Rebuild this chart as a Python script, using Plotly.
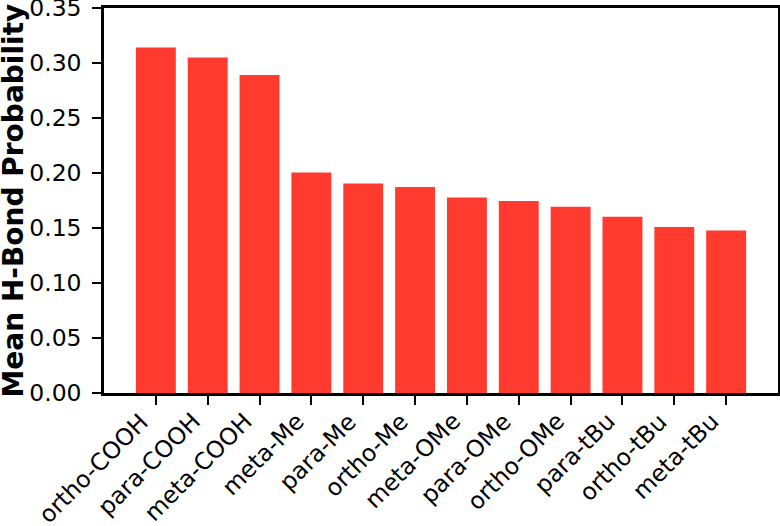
import plotly.graph_objects as go

categories = ["ortho-COOH", "para-COOH", "meta-COOH", "meta-Me", "para-Me", "ortho-Me",
              "meta-OMe", "para-OMe", "ortho-OMe", "para-tBu", "ortho-tBu", "meta-tBu"]
values = [0.314, 0.305, 0.289, 0.2005, 0.1905, 0.1873,
          0.1778, 0.1745, 0.1694, 0.1603, 0.1509, 0.1478]
y_ticks = [0.00, 0.05, 0.10, 0.15, 0.20, 0.25, 0.30, 0.35]
y_ticklabels = ["0.00", "0.05", "0.10", "0.15", "0.20", "0.25", "0.30", "0.35"]
y_title = "Mean H-Bond Probability"

x_pos = list(range(len(categories)))

fig = go.Figure(go.Bar(
    x=x_pos, y=values, width=0.77,
    marker=dict(color="#FF3B30", line=dict(width=0)),
))

fig.update_layout(
    width=780, height=526,
    margin=dict(l=104, r=2, t=8, b=133),
    paper_bgcolor="white", plot_bgcolor="white",
    font=dict(family="DejaVu Sans", size=23, color="black"),
    showlegend=False,
)
fig.update_xaxes(
    range=[-1, 12], tickmode="array", tickvals=x_pos, showticklabels=False,
    ticks="outside", ticklen=9, tickwidth=2, tickcolor="black",
    showline=True, linewidth=2.5, linecolor="black", mirror=True,
    showgrid=False, zeroline=False, automargin=False,
)
fig.update_yaxes(
    range=[0, 0.35001], tickmode="array", tickvals=y_ticks, ticktext=y_ticklabels,
    ticks="outside", ticklen=9, tickwidth=2, tickcolor="black",
    showline=True, linewidth=2.5, linecolor="black", mirror=True,
    showgrid=False, zeroline=False, tickfont=dict(size=23.5), ticklabelstandoff=6,
    ticklabeloverflow="allow", automargin=False,
)
for xp, lab in zip(x_pos, categories):
    fig.add_annotation(
        text=lab, x=xp, xref="x", y=0, yref="paper",
        xanchor="right", yanchor="top", yshift=-13, textangle=-45,
        showarrow=False, borderpad=0,
        font=dict(size=23.5, family="DejaVu Sans", color="black"),
    )
fig.add_annotation(
    text="<b>" + y_title + "</b>", xref="paper", yref="paper", x=0, y=0.5,
    xanchor="center", yanchor="middle", xshift=-91, textangle=-90, showarrow=False,
    font=dict(size=28, family="DejaVu Sans", color="black"),
)

fig.write_html("out.html")
